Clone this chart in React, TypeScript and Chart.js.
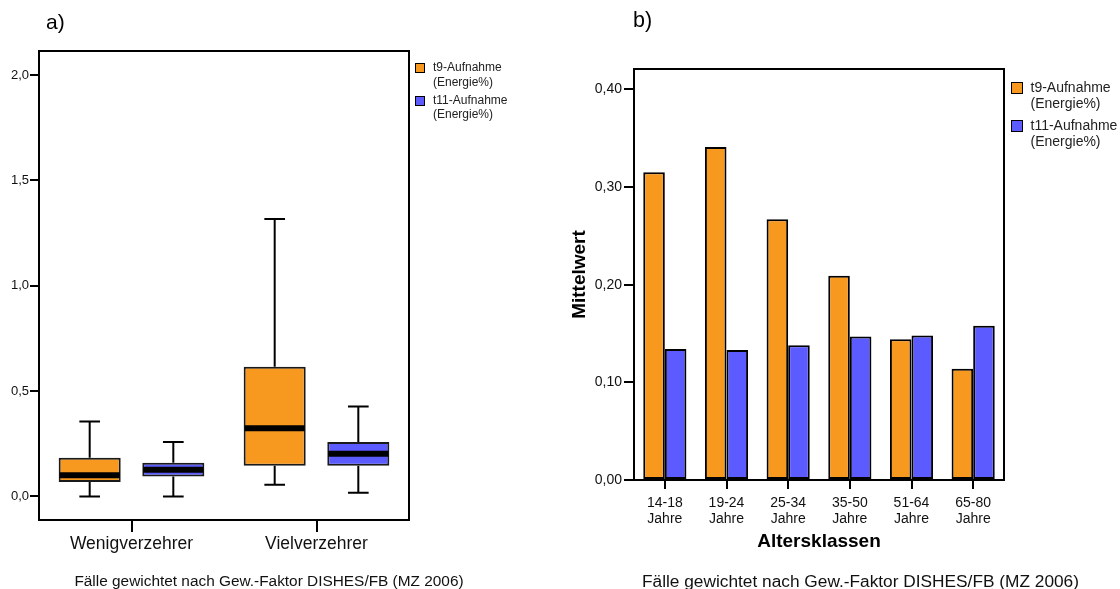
import React, { useEffect, useRef } from "react";
import { Chart, registerables } from "chart.js";
Chart.register(...registerables);

const FONT = "'Liberation Sans', Arial, Helvetica, sans-serif";
const ORANGE = "#F7991F";
const BLUE = "#5B5BFF";
const INK = "#111";

// ---- a) box plot data ----
const groupLabels = ["Wenigverzehrer", "Vielverzehrer"];
const t9Min = [0.0, 0.055];
const t9Q1 = [0.068, 0.145];
const t9Median = [0.1, 0.323];
const t9Q3 = [0.183, 0.615];
const t9Max = [0.356, 1.317];
const t11Min = [0.0, 0.017];
const t11Q1 = [0.095, 0.145];
const t11Median = [0.126, 0.202];
const t11Q3 = [0.16, 0.258];
const t11Max = [0.258, 0.427];
const boxTicks = [0, 0.5, 1.0, 1.5, 2.0];

// ---- b) bar chart data ----
const ageLabels = [
  ["14-18", "Jahre"],
  ["19-24", "Jahre"],
  ["25-34", "Jahre"],
  ["35-50", "Jahre"],
  ["51-64", "Jahre"],
  ["65-80", "Jahre"],
];
const t9Mean = [0.315, 0.341, 0.267, 0.209, 0.144, 0.114];
const t11Mean = [0.134, 0.133, 0.138, 0.147, 0.148, 0.158];
const meanTicks = [0, 0.1, 0.2, 0.3, 0.4];

const seriesNames = [
  ["t9-Aufnahme", "(Energie%)"],
  ["t11-Aufnahme", "(Energie%)"],
];
const footnote = "Fälle gewichtet nach Gew.-Faktor DISHES/FB (MZ 2006)";

const framePlugin = {
  id: "frame",
  afterDraw(chart: any) {
    const { ctx, chartArea } = chart;
    const { left, top, right, bottom } = chartArea;
    ctx.save();
    ctx.strokeStyle = "#000";
    ctx.lineWidth = 2;
    ctx.strokeRect(left, top, right - left, bottom - top);
    ctx.restore();
  },
};

const boxStats = [
  { min: t9Min, med: t9Median, max: t9Max, q1: t9Q1, q3: t9Q3 },
  { min: t11Min, med: t11Median, max: t11Max, q1: t11Q1, q3: t11Q3 },
];

const whiskerPlugin = {
  id: "whiskers",
  afterDatasetsDraw(chart: any) {
    const { ctx } = chart;
    const ys = chart.scales.y;
    ctx.save();
    boxStats.forEach((st, d) => {
      const meta = chart.getDatasetMeta(d);
      meta.data.forEach((el: any, j: number) => {
        const { x, width } = el.getProps(["x", "width"], true);
        const yMin = ys.getPixelForValue(st.min[j]);
        const yMax = ys.getPixelForValue(st.max[j]);
        const yQ1 = ys.getPixelForValue(st.q1[j]);
        const yQ3 = ys.getPixelForValue(st.q3[j]);
        const yMed = ys.getPixelForValue(st.med[j]);
        const cap = width / 3;
        ctx.strokeStyle = "#000";
        ctx.lineWidth = 2;
        ctx.beginPath();
        ctx.moveTo(x, yQ3);
        ctx.lineTo(x, yMax);
        ctx.moveTo(x - cap / 2, yMax);
        ctx.lineTo(x + cap / 2, yMax);
        ctx.moveTo(x, yQ1);
        ctx.lineTo(x, yMin);
        ctx.moveTo(x - cap / 2, yMin);
        ctx.lineTo(x + cap / 2, yMin);
        ctx.stroke();
        ctx.lineWidth = 6;
        ctx.beginPath();
        ctx.moveTo(x - width / 2 + 1, yMed);
        ctx.lineTo(x + width / 2 - 1, yMed);
        ctx.stroke();
      });
    });
    ctx.restore();
  },
};

function ChartCanvas({ config, left, width, height }: any) {
  const ref = useRef<HTMLCanvasElement | null>(null);
  useEffect(() => {
    if (!ref.current) return;
    const chart = new Chart(ref.current, config());
    return () => chart.destroy();
  }, []);
  return (
    <canvas
      ref={ref}
      width={width}
      height={height}
      style={{ position: "absolute", left, top: 0, width, height, display: "block" }}
    />
  );
}

const boxConfig = () => ({
  type: "bar",
  data: {
    labels: groupLabels,
    datasets: [
      {
        label: seriesNames[0].join(" "),
        data: groupLabels.map((_, i) => [t9Q1[i], t9Q3[i]]),
        backgroundColor: ORANGE,
        borderColor: "#1a1a1a",
        borderWidth: 2,
        borderSkipped: false,
        categoryPercentage: 0.904,
        barPercentage: 0.742,
      },
      {
        label: seriesNames[1].join(" "),
        data: groupLabels.map((_, i) => [t11Q1[i], t11Q3[i]]),
        backgroundColor: BLUE,
        borderColor: "#1a1a1a",
        borderWidth: 2,
        borderSkipped: false,
        categoryPercentage: 0.904,
        barPercentage: 0.742,
      },
    ],
  },
  options: {
    animation: false,
    responsive: false,
    maintainAspectRatio: false,
    layout: { padding: { top: 51, right: 151, left: 0, bottom: 0 } },
    plugins: { legend: { display: false }, tooltip: { enabled: false } },
    scales: {
      x: {
        grid: { display: true, offset: false, drawOnChartArea: false, drawTicks: true, tickLength: 12, color: "#000", lineWidth: 2 },
        border: { display: true, color: "#000", width: 2 },
        ticks: { font: { family: FONT, size: 17.5 }, color: INK, padding: 2, maxRotation: 0 },
        afterFit: (s: any) => { s.height = 69; },
      },
      y: {
        min: -0.112,
        max: 2.114,
        afterBuildTicks: (s: any) => { s.ticks = boxTicks.map((v) => ({ value: v })); },
        grid: { display: true, drawOnChartArea: false, drawTicks: true, tickLength: 9, color: "#000", lineWidth: 2 },
        border: { display: true, color: "#000", width: 2 },
        ticks: {
          font: { family: FONT, size: 13 },
          color: INK,
          padding: 1,
          callback: (v: any) => Number(v).toFixed(1).replace(".", ","),
        },
        afterFit: (s: any) => { s.width = 39; },
      },
    },
  },
  plugins: [whiskerPlugin, framePlugin],
});

const barConfig = () => ({
  type: "bar",
  data: {
    labels: ageLabels,
    datasets: [
      {
        label: seriesNames[0].join(" "),
        data: t9Mean,
        backgroundColor: ORANGE,
        borderColor: "#000",
        borderWidth: 2,
        borderSkipped: false,
        categoryPercentage: 0.7,
        barPercentage: 1.0,
      },
      {
        label: seriesNames[1].join(" "),
        data: t11Mean,
        backgroundColor: BLUE,
        borderColor: "#000",
        borderWidth: 2,
        borderSkipped: false,
        categoryPercentage: 0.7,
        barPercentage: 1.0,
      },
    ],
  },
  options: {
    animation: false,
    responsive: false,
    maintainAspectRatio: false,
    layout: { padding: { top: 69, right: 116, left: 0, bottom: 0 } },
    plugins: { legend: { display: false }, tooltip: { enabled: false } },
    scales: {
      x: {
        grid: { display: true, offset: false, drawOnChartArea: false, drawTicks: true, tickLength: 9, color: "#000", lineWidth: 2 },
        border: { display: true, color: "#000", width: 2 },
        ticks: { font: { family: FONT, size: 14, lineHeight: 1.143 }, color: INK, padding: 6, maxRotation: 0 },
        title: {
          display: true,
          text: "Altersklassen",
          color: "#000",
          font: { family: FONT, size: 19, weight: "bold" },
          padding: { top: 0, bottom: 36 },
        },
        afterFit: (s: any) => { s.height = 109; },
      },
      y: {
        min: 0,
        max: 0.4208,
        afterBuildTicks: (s: any) => { s.ticks = meanTicks.map((v) => ({ value: v })); },
        grid: { display: true, drawOnChartArea: false, drawTicks: true, tickLength: 10, color: "#000", lineWidth: 2 },
        border: { display: true, color: "#000", width: 2 },
        ticks: {
          font: { family: FONT, size: 14 },
          color: INK,
          padding: 2,
          callback: (v: any) => Number(v).toFixed(2).replace(".", ","),
        },
        title: {
          display: true,
          text: "Mittelwert",
          color: "#000",
          font: { family: FONT, size: 19, weight: "bold" },
          padding: { top: 8.6, bottom: 0 },
        },
        afterFit: (s: any) => { s.width = 74; },
      },
    },
  },
  plugins: [framePlugin],
});

function Legend({ x, y, sq, fontSize, lineH, gap, textX }: any) {
  const colors = [ORANGE, BLUE];
  return (
    <>
      {seriesNames.map((lines, i) => (
        <React.Fragment key={i}>
          <div
            style={{
              position: "absolute",
              left: x,
              top: y + i * gap + (lineH - sq) / 2 + 1,
              width: sq,
              height: sq,
              background: colors[i],
              border: "1.5px solid #000",
              boxSizing: "border-box",
            }}
          />
          <div
            style={{
              position: "absolute",
              left: textX,
              top: y + i * gap,
              fontFamily: FONT,
              fontSize,
              lineHeight: lineH + "px",
              color: "#222",
              whiteSpace: "nowrap",
            }}
          >
            {lines.map((l, k) => (
              <div key={k}>{l}</div>
            ))}
          </div>
        </React.Fragment>
      ))}
    </>
  );
}

export default function App() {
  return (
    <div
      style={{
        position: "fixed",
        left: 0,
        top: 0,
        width: 1120,
        height: 589,
        overflow: "hidden",
        background: "#fff",
        fontFamily: FONT,
      }}
    >
      <ChartCanvas config={boxConfig} left={0} width={560} height={589} />
      <ChartCanvas config={barConfig} left={560} width={560} height={589} />

      <div style={{ position: "absolute", left: 46, top: 11, fontSize: 21, lineHeight: "21px", color: "#000" }}>a)</div>
      <div style={{ position: "absolute", left: 633, top: 10, fontSize: 21.5, lineHeight: "21.5px", color: "#000" }}>b)</div>

      <Legend x={415} y={60.1} sq={10} fontSize={12} lineH={14.4} gap={32.7} textX={433} />
      <Legend x={1011} y={78.7} sq={12.3} fontSize={14} lineH={16} gap={38.3} textX={1030.5} />

      <div
        style={{
          position: "absolute",
          left: 0,
          width: 538,
          top: 573,
          textAlign: "center",
          fontSize: 15.4,
          lineHeight: "15.4px",
          color: "#111",
          whiteSpace: "nowrap",
        }}
      >
        {footnote}
      </div>
      <div
        style={{
          position: "absolute",
          left: 560.5,
          width: 600,
          top: 572.8,
          textAlign: "center",
          fontSize: 17.3,
          lineHeight: "17.3px",
          color: "#111",
          whiteSpace: "nowrap",
        }}
      >
        {footnote}
      </div>
    </div>
  );
}
